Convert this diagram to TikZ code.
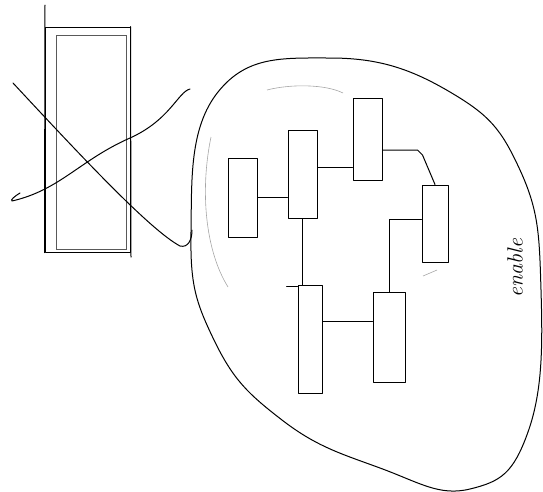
\documentclass[tikz,border=0pt]{standalone}
\usetikzlibrary{calc}

\tikzset{
  sketch/.style={line width=1pt, line cap=round, line join=round},
  blk/.style={draw, sketch, minimum width=#1, inner sep=0pt},
  faint/.style={draw=black!35, line width=0.6pt}
}

\begin{document}
\begin{tikzpicture}[x=1pt,y=-1pt]
  \useasboundingbox (0,0) rectangle (543,491);
  % crossed-out block
  \node[blk=85pt, minimum height=225pt] (Old) at (87.5,139.5) {};
  \node[draw=black!65, line width=0.8pt, minimum width=70pt, minimum height=214pt] (OldIn) at (91,142) {};
  \coordinate (OldTop) at (45,5);
  \coordinate (OldFoot) at (131,257);
  \draw[sketch] (OldTop) -- (Old.south west);
  \draw[sketch] (Old.north east) -- (OldFoot);
  \draw[sketch] (13,83) .. controls (80,155) and (150,230) .. (180,246)
                        .. controls (188,248) and (192,240) .. (192,230);
  \draw[sketch] (20,193) .. controls (15,196) and (10,200) .. (12,201)
                        .. controls (60,190) and (80,160) .. (130,138)
                        .. controls (170,120) and (178,92) .. (190,89);
  % enclosing blob
  \draw[sketch] plot[smooth cycle, tension=0.75] coordinates {
    (218,92) (330,58) (450,92) (520,170) (541,290) (528,432)
    (470,489) (380,468) (282,420) (214,340) (191,232)};
  \draw[faint] (267,90) .. controls (290,84) and (325,84) .. (343,93);
  \draw[faint] (211,137) .. controls (200,190) and (205,250) .. (228,287);
  \coordinate (Tick) at (437,270);
  \draw[faint] (423,276) -- (Tick);
  % blocks
  \node[blk=29pt, minimum height=79pt] (N1) at (242.5,197.5) {};
  \node[blk=29pt, minimum height=88pt] (N2) at (302.5,174) {};
  \node[blk=29pt, minimum height=82pt] (N3) at (367.5,139) {};
  \node[blk=26pt, minimum height=77pt] (N4) at (435,223.5) {};
  \node[blk=24pt, minimum height=108pt] (N5) at (310,339) {};
  \node[blk=32pt, minimum height=90pt] (N6) at (389,337) {};
  % links
  \draw[sketch] (N1.east) -- (N1.east -| N2.west);
  \draw[sketch] ([yshift=7pt]N2.east) -- ([yshift=7pt]N2.east -| N3.west);
  \draw[sketch] ([yshift=-11pt]N3.east) -- ++(35,0) -- ++(5,5) -- (N4.north);
  \draw[sketch] ([yshift=4pt]N4.west) -| (N6.north);
  \draw[sketch] (N2.south) -- (N2.south |- N5.north);
  \draw[sketch] ([yshift=-2pt]N5.north west) -- ++(-11,0);
  \draw[sketch] ([yshift=18pt]N5.east) -- ([yshift=18pt]N5.east -| N6.west);
  % label
  \node[rotate=90, font=\itshape\fontsize{22}{22}\selectfont] (Tag) at (515,268) {enable};
\end{tikzpicture}
\end{document}
